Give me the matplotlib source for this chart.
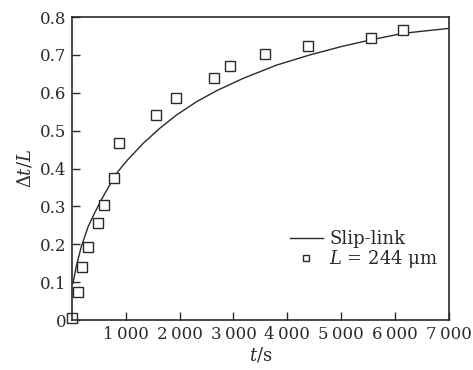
import matplotlib
matplotlib.use('Agg')
import matplotlib.pyplot as plt

# Measured data, L = 244 um
t_exp = [5, 105, 180, 290, 482, 588, 785, 872, 1558, 1942, 2640, 2937, 3594, 4385, 5547, 6141]
r_exp = [0.005, 0.074, 0.14, 0.193, 0.256, 0.303, 0.374, 0.467, 0.542, 0.585, 0.639, 0.671,
         0.703, 0.724, 0.745, 0.766]

# Slip-link model curve
t_model = [20, 80, 175, 300, 420, 545, 700, 855, 1030, 1320, 1630, 1940, 2310, 2680, 3180,
           3800, 4420, 5030, 5530, 6150, 7000]
r_model = [0.097, 0.141, 0.194, 0.246, 0.282, 0.317, 0.356, 0.392, 0.422, 0.466, 0.506,
           0.541, 0.576, 0.605, 0.638, 0.673, 0.700, 0.723, 0.739, 0.757, 0.770]

x_ticks = [1000, 2000, 3000, 4000, 5000, 6000, 7000]
x_labels = ['1\u2009000', '2\u2009000', '3\u2009000', '4\u2009000', '5\u2009000', '6\u2009000', '7\u2009000']
y_ticks = [0, 0.1, 0.2, 0.3, 0.4, 0.5, 0.6, 0.7, 0.8]
y_labels = ['0', '0.1', '0.2', '0.3', '0.4', '0.5', '0.6', '0.7', '0.8']

plt.rcParams['font.family'] = ['DejaVu Serif']
plt.rcParams['mathtext.fontset'] = 'dejavuserif'

fig = plt.figure(figsize=(4.73, 3.70), dpi=100)
ax = fig.add_axes([0.152, 0.135, 0.797, 0.819])

ink = '#2a2a2a'
ax.plot(t_model, r_model, color=ink, linewidth=1.0, label='Slip-link')
ax.plot(t_exp, r_exp, linestyle='none', marker='s', markersize=6.5, markerfacecolor='white',
        markeredgecolor=ink, markeredgewidth=1.0, label=r'$L$ = 244 μm', clip_on=False)

ax.set_xlim(0, 7000)
ax.set_ylim(0, 0.8)
ax.set_xticks(x_ticks)
ax.set_xticklabels(x_labels)
ax.set_yticks(y_ticks)
ax.set_yticklabels(y_labels)
ax.tick_params(direction='in', length=6, width=1.0, labelsize=12, colors=ink, pad=4)

for s in ax.spines.values():
    s.set_linewidth(1.2)
    s.set_color(ink)

ax.set_xlabel(r'$t$/s', fontsize=13, color=ink, labelpad=2)
ax.set_ylabel(r'$\Delta t/L$', fontsize=13, color=ink, labelpad=4)

ax.legend(loc='upper left', bbox_to_anchor=(0.56, 0.32), frameon=False, fontsize=13,
          handlelength=1.8, handletextpad=0.35, markerscale=0.65, labelspacing=0.0,
          borderaxespad=0, labelcolor=ink)

plt.savefig('out.png', dpi=100)
